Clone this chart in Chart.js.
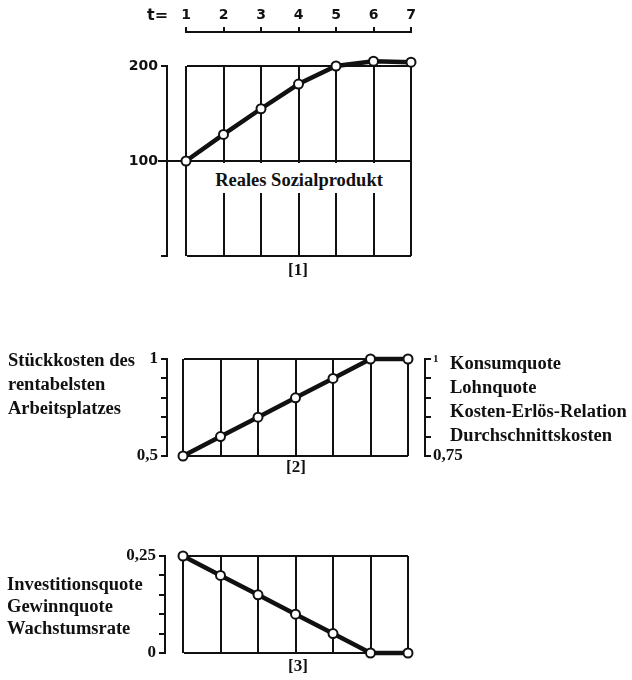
<!DOCTYPE html>
<html lang="de">
<head>
<meta charset="utf-8">
<title>Reales Sozialprodukt, Kosten und Quoten</title>
<script src="https://cdn.jsdelivr.net/npm/chart.js@4.4.1/dist/chart.umd.min.js"></script>
<style>
  body { margin: 0; background: #fff; }
  #page { position: relative; width: 632px; height: 680px; overflow: hidden; color: #111;
          font-family: 'Liberation Serif', serif; font-weight: bold; }
  canvas { position: absolute; left: 0; }
  .lbl { position: absolute; white-space: nowrap; font-size: 18.5px; }
  .nr { position: absolute; width: 30px; text-align: center; font-size: 17px; line-height: 20px; }
</style>
</head>
<body>
<div id="page">
  <canvas id="chart1" width="632" height="290" style="top:0"></canvas>
  <canvas id="chart2" width="632" height="130" style="top:340px"></canvas>
  <canvas id="chart3" width="632" height="130" style="top:540px"></canvas>

  <div class="lbl" style="left:147px; top:5px; font-family:'DejaVu Sans'; font-size:16px;">t=</div>
  <div class="lbl" style="left:196px; top:163px; width:206px; height:30px; line-height:35px; text-align:center; background:#fff;">Reales Sozialprodukt</div>
  <div class="nr" style="left:283px; top:260px;">[1]</div>

  <div class="lbl" style="left:8px; top:348px; line-height:24px;">Stückkosten des<br>rentabelsten<br>Arbeitsplatzes</div>
  <div class="lbl" style="left:450px; top:351px; line-height:24px;">Konsumquote<br>Lohnquote<br>Kosten-Erlös-Relation<br>Durchschnittskosten</div>
  <div class="nr" style="left:281px; top:457px;">[2]</div>

  <div class="lbl" style="left:7px; top:573px; line-height:22px;">Investitionsquote<br>Gewinnquote<br>Wachstumsrate</div>
  <div class="nr" style="left:283px; top:656px;">[3]</div>
</div>
<script>
// Perioden t = 1 ... 7
const perioden = ['1', '2', '3', '4', '5', '6', '7'];

// [1] Reales Sozialprodukt
const sozialprodukt = [100, 128, 155, 181, 200, 205, 204];
const ticks1Werte = [0, 100, 200];
const ticks1 = ['', '100', '200'];

// [2] Stückkosten des rentabelsten Arbeitsplatzes (links), Quoten (rechts)
const stueckkosten = [0.5, 0.6, 0.7, 0.8, 0.9, 1, 1];
const ticks2LinksWerte = [0.5, 0.6, 0.7, 0.8, 0.9, 1];
const ticks2Links = ['0,5', '', '', '', '', '1'];
const ticks2RechtsWerte = [0.75, 0.8, 0.85, 0.9, 0.95, 1];
const ticks2Rechts = ['0,75', '', '', '', '', '1'];

// [3] Investitionsquote, Gewinnquote, Wachstumsrate
const investitionsquote = [0.25, 0.2, 0.15, 0.1, 0.05, 0, 0];
const ticks3Werte = [0, 0.05, 0.1, 0.15, 0.2, 0.25];
const ticks3 = ['0', '', '', '', '', '0,25'];

const ink = '#111';
const numFont = { family: "'Liberation Serif', serif", weight: 'bold', size: 17 };
const sansFont = { family: "'DejaVu Sans', sans-serif", weight: 'bold', size: 14 };

const fixWidth = (w) => (scale) => { scale.width = w; };
const fixHeight = (h) => (scale) => { scale.height = h; };

// leere Achse, nur als Abstand zwischen Achse und Diagramm
function spacer(position, size) {
  const vertical = position === 'left' || position === 'right';
  return {
    type: 'linear', position, weight: 0, display: true,
    grid: { display: false }, border: { display: false }, ticks: { display: false },
    afterFit: vertical ? fixWidth(size) : fixHeight(size),
  };
}

function wertAchse(position, werte, labels, width, onArea, alleLinien, font) {
  return {
    type: 'linear', position, weight: 1,
    min: werte[0], max: werte[werte.length - 1],
    afterFit: fixWidth(width),
    afterBuildTicks: (scale) => { scale.ticks = werte.map((v) => ({ value: v })); },
    ticks: { padding: 3, color: ink, font, autoSkip: false, callback: (v, i) => labels[i] },
    grid: {
      drawOnChartArea: onArea,
      color: (ctx) => (alleLinien || ctx.index === 0 || ctx.index === labels.length - 1 ? ink : 'rgba(0,0,0,0)'),
      tickColor: ink, tickLength: 6, lineWidth: 2,
    },
    border: { display: true, color: ink, width: 2 },
  };
}

const xAchse = {
  type: 'category', position: 'bottom', weight: 0,
  afterFit: fixHeight(0),
  ticks: { display: false, autoSkip: false },
  grid: { color: ink, lineWidth: 2, drawTicks: false },
  border: { display: false },
};

function linie(values) {
  return {
    data: values, yAxisID: 'y', borderColor: ink, borderWidth: 4.5, tension: 0,
    pointRadius: 4.5, pointBorderWidth: 2, pointBackgroundColor: '#fff', pointBorderColor: ink,
    pointHoverRadius: 4.5, clip: false,
  };
}

// Linie bei 100 läuft in [1] bis über die Achse hinaus
const durchgezogen = {
  id: 'durchgezogen',
  beforeDatasetsDraw(chart) {
    const y = chart.scales.y;
    const py = y.getPixelForValue(ticks1Werte[1]);
    const ctx = chart.ctx;
    ctx.save();
    ctx.strokeStyle = ink;
    ctx.lineWidth = 2;
    ctx.beginPath();
    ctx.moveTo(y.right - 9, py);
    ctx.lineTo(chart.chartArea.left, py);
    ctx.stroke();
    ctx.restore();
  },
};

function baseOptions(padding, scales) {
  return {
    responsive: false, animation: false, events: [],
    layout: { padding },
    plugins: { legend: { display: false }, tooltip: { enabled: false } },
    scales,
  };
}

// [1]
new Chart(document.getElementById('chart1'), {
  type: 'line',
  data: { labels: perioden, datasets: [linie(sozialprodukt)] },
  options: baseOptions({ left: 127, right: 221, top: 0, bottom: 34 }, {
    x: xAchse,
    t: {
      type: 'category', position: 'top', weight: 1,
      afterFit: fixHeight(32),
      ticks: { color: ink, font: sansFont, padding: 3, maxRotation: 0, autoSkip: false },
      grid: { drawOnChartArea: false, color: ink, tickLength: 5, lineWidth: 2 },
      border: { display: true, color: ink, width: 2 },
    },
    tPad: spacer('top', 34),
    y: wertAchse('left', ticks1Werte, ticks1, 40, true, true, sansFont),
    yPad: spacer('left', 19),
  }),
  plugins: [durchgezogen],
});

// [2]
const rechts = wertAchse('right', ticks2RechtsWerte, ticks2Rechts, 50, false, false, numFont);
rechts.ticks = {
  padding: 2, color: ink, autoSkip: false,
  font: (ctx) => (ctx.index === ticks2Rechts.length - 1 ? { ...numFont, size: 11 } : numFont),
  callback: (v, i) => ticks2Rechts[i],
};
new Chart(document.getElementById('chart2'), {
  type: 'line',
  data: { labels: perioden, datasets: [linie(stueckkosten)] },
  options: baseOptions({ left: 127, right: 157, top: 19, bottom: 14 }, {
    x: xAchse,
    y: wertAchse('left', ticks2LinksWerte, ticks2Links, 40, true, false, numFont),
    yPad: spacer('left', 16),
    y2: rechts,
    y2Pad: spacer('right', 17),
  }),
});

// [3]
new Chart(document.getElementById('chart3'), {
  type: 'line',
  data: { labels: perioden, datasets: [linie(investitionsquote)] },
  options: baseOptions({ left: 125, right: 224, top: 16, bottom: 17 }, {
    x: xAchse,
    y: wertAchse('left', ticks3Werte, ticks3, 40, true, false, numFont),
    yPad: spacer('left', 18),
  }),
});
</script>
</body>
</html>
